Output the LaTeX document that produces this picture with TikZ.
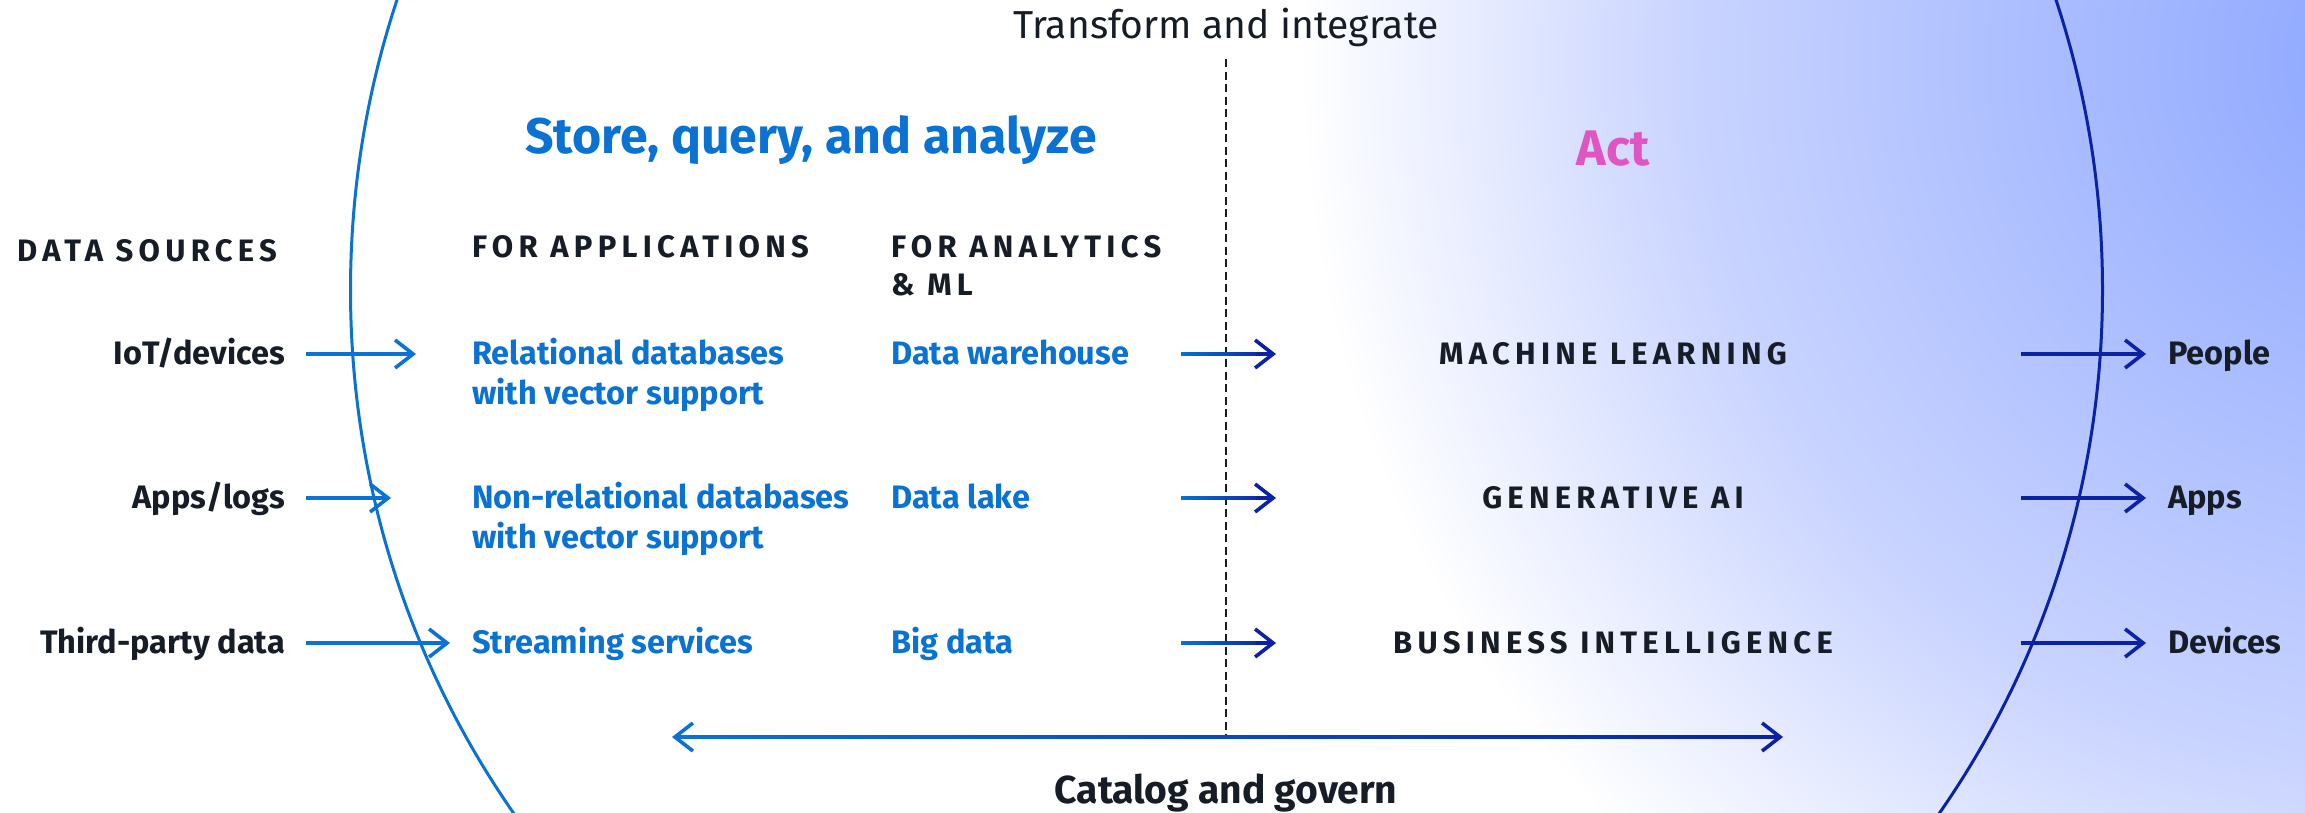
\documentclass[tikz,border=0pt]{standalone}
\usepackage{fontspec}
\setmainfont{Fira Sans}
\usetikzlibrary{arrows.meta,calc}

\definecolor{awsblue}{HTML}{0972D3}
\definecolor{navy}{HTML}{0A22A3}
\definecolor{ink}{HTML}{161D26}
\definecolor{actpink}{HTML}{E055C4}
\definecolor{glow}{HTML}{8CA6FF}
\definecolor{glowmid}{HTML}{C8D3FF}

\pgfdeclareradialshading{actglow}{\pgfpoint{0bp}{0bp}}{color(0bp)=(glow); color(16bp)=(glowmid); color(25bp)=(white); color(50bp)=(white)}

\tikzset{
	every node/.style={inner sep=0pt, text=ink},
	note/.style={anchor=base, font=\fontsize{39}{44}\selectfont},
	headline/.style={anchor=base, font=\fontsize{50}{56}\selectfont\bfseries},
	lbl/.style={font=\fontsize{32.5}{40}\selectfont\bfseries},
	src/.style={lbl, anchor=base east},
	store/.style={lbl, text=awsblue, anchor=base west, align=left},
	sink/.style={lbl, anchor=base west},
	colhead/.style={font=\fontsize{31}{38}\selectfont\bfseries\addfontfeatures{LetterSpace=17}, anchor=base west, align=left},
	actitem/.style={colhead, anchor=base},
	tip/.style={-{Straight Barb[length=18pt,width=28pt]}, line width=3.6pt},
	feed/.style={tip, awsblue},
	deliver/.style={tip, navy},
}

\begin{document}
\begin{tikzpicture}[x=1pt, y=-1pt]
	\useasboundingbox (0,0) rectangle (2305,812);
	\fill[white] (0,0) rectangle (2305,812);
	% glow and ring
	\begin{scope}
		\clip (0,0) rectangle (2305,812);
		\shade[shading=actglow] (2400,60) circle (1100pt);
		\coordinate (ring) at (1226.5,290);
		\draw[awsblue, line width=3pt] ($(ring)+(0pt,900pt)$) arc[start angle=90, end angle=270, x radius=876pt, y radius=900pt];
		\draw[navy, line width=3pt] ($(ring)+(0pt,900pt)$) arc[start angle=90, end angle=-90, x radius=876pt, y radius=900pt];
	\end{scope}
	\coordinate (dtop) at (1226,59);
	\coordinate (dbot) at (1226,737);
	\coordinate (catl) at (672,737);
	\coordinate (catr) at (1783,737);
	\draw[ink, line width=2pt, dash pattern=on 8pt off 4.5pt] (dtop) -- (dbot);

	\node[note] (transform) at (1226,38) {Transform and integrate};
	\node[headline, text=awsblue] (store) at (811,153) {Store, query, and analyze};
	\node[headline, text=actpink] (act) at (1613,165) {Act};

	\node[colhead] (srchead) at (17,261) {DATA SOURCES};
	\node[colhead] (apphead) at (472,257) {FOR APPLICATIONS};
	\node[colhead] (anahead) at (891,295) {FOR ANALYTICS\\\& ML};

	\node[src] (iot) at (285,364) {IoT/devices};
	\node[src] (applogs) at (285,508) {Apps/logs};
	\node[src] (third) at (285,653) {Third-party data};

	\node[store] (rdb) at (472,404) {Relational databases\\with vector support};
	\node[store] (nrdb) at (472,548) {Non-relational databases\\with vector support};
	\node[store] (stream) at (472,653) {Streaming services};

	\node[store] (dwh) at (891,364) {Data warehouse};
	\node[store] (lake) at (891,508) {Data lake};
	\node[store] (bigd) at (891,653) {Big data};

	\node[actitem] (ml) at (1613,364) {MACHINE LEARNING};
	\node[actitem] (genai) at (1613,508) {GENERATIVE AI};
	\node[actitem] (bi) at (1613,653) {BUSINESS INTELLIGENCE};

	\node[sink] (people) at (2168,364) {People};
	\node[sink] (apps) at (2168,508) {Apps};
	\node[sink] (devices) at (2168,653) {Devices};

	\node[headline, font=\fontsize{39}{44}\selectfont\bfseries] (catalog) at (1226,803) {Catalog and govern};

	% sources into the ring
	\draw[feed] ($(iot.base east)+(21,-10)$) -- ($(iot.base east -| rdb.west)+(-56,-10)$);
	\draw[feed] ($(applogs.base east)+(21,-10)$) -- ($(applogs.base east -| nrdb.west)+(-81,-10)$);
	\draw[feed] ($(third.base east)+(21,-10)$) -- ($(third.base east -| stream.west)+(-22,-10)$);

	% handoff across the dashed line
	\foreach \n in {dwh,lake,bigd} {
		\coordinate (a) at ($(\n.base -| dtop)+(-45,-10)$);
		\coordinate (b) at ($(\n.base -| dtop)+(50,-10)$);
		\shade[left color=awsblue, right color=navy] ($(a)+(0,-1.8)$) rectangle ($(b)+(-6,1.8)$);
		\draw[deliver] ($(b)+(-20,0)$) -- (b);
	}

	% out of the ring
	\draw[deliver] ($(people.base west)+(-147,-10)$) -- ($(people.base west)+(-22,-10)$);
	\draw[deliver] ($(apps.base west)+(-147,-10)$) -- ($(apps.base west)+(-22,-10)$);
	\draw[deliver] ($(devices.base west)+(-147,-10)$) -- ($(devices.base west)+(-22,-10)$);

	% catalog and govern
	\shade[left color=awsblue, right color=navy] ($(catl)+(4,-1.8)$) rectangle ($(catr)+(-4,1.8)$);
	\draw[feed] ($(catl)+(20,0)$) -- (catl);
	\draw[deliver] ($(catr)+(-20,0)$) -- (catr);
\end{tikzpicture}
\end{document}
